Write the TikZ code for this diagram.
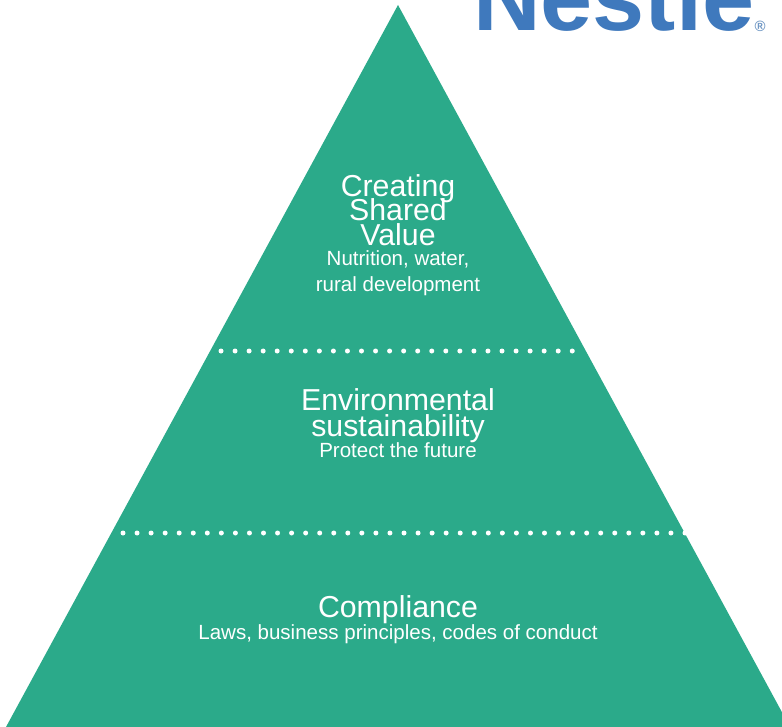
\documentclass[tikz,border=0pt]{standalone}
\usepackage{fontspec}
\setmainfont{Liberation Sans}
\definecolor{pyr}{HTML}{2BAA8A}
\definecolor{nest}{HTML}{3F79BD}
\definecolor{nestreg}{HTML}{6F97C4}
\tikzset{
  big/.style={anchor=base,text=white,inner sep=0pt,font=\fontsize{30.4}{30.4}\selectfont},
  small/.style={anchor=base,text=white,inner sep=0pt,font=\fontsize{20.6}{20.6}\selectfont},
  dotline/.style={draw=white,line width=5bp,line cap=round,dash pattern=on 0pt off 14.05bp},
  pyramid/.style={fill=pyr,draw=none},
  logo/.style={anchor=base west,text=nest,inner sep=0pt,font=\fontsize{94}{94}\selectfont\bfseries}
}
\begin{document}
\begin{tikzpicture}[x=1bp,y=-1bp]
\useasboundingbox (0,0) rectangle (782,727);
\clip (0,0) rectangle (782,727);
\fill[white] (0,0) rectangle (782,727);
\node[logo] (brand) at (473,31) {Nestlé};
\node[anchor=base,text=nestreg,inner sep=0pt,font=\fontsize{15}{15}\selectfont\bfseries] (reg) at (760,32) {®};
\coordinate (apex) at (398,5);
\coordinate (bl) at (6,727);
\coordinate (br) at (790,727);
\fill[pyramid] (apex) -- (br) -- (bl) -- cycle;
\coordinate (d1a) at (221,351);
\coordinate (d1b) at (573,351);
\coordinate (d2a) at (123,533);
\coordinate (d2b) at (686,533);
\draw[dotline] (d1a) -- (d1b);
\draw[dotline] (d2a) -- (d2b);
\node[big] (t1) at (398,196) {Creating};
\node[big] (t2) at (398,220) {Shared};
\node[big] (t3) at (398,245) {Value};
\node[small] (t4) at (398,265) {Nutrition, water,};
\node[small] (t5) at (398,291) {rural development};
\node[big] (e1) at (398,410) {Environmental};
\node[big] (e2) at (398,436) {sustainability};
\node[small] (e3) at (398,457) {Protect the future};
\node[big] (c1) at (398,617) {Compliance};
\node[small] (c2) at (398,639) {Laws, business principles, codes of conduct};
\end{tikzpicture}
\end{document}
